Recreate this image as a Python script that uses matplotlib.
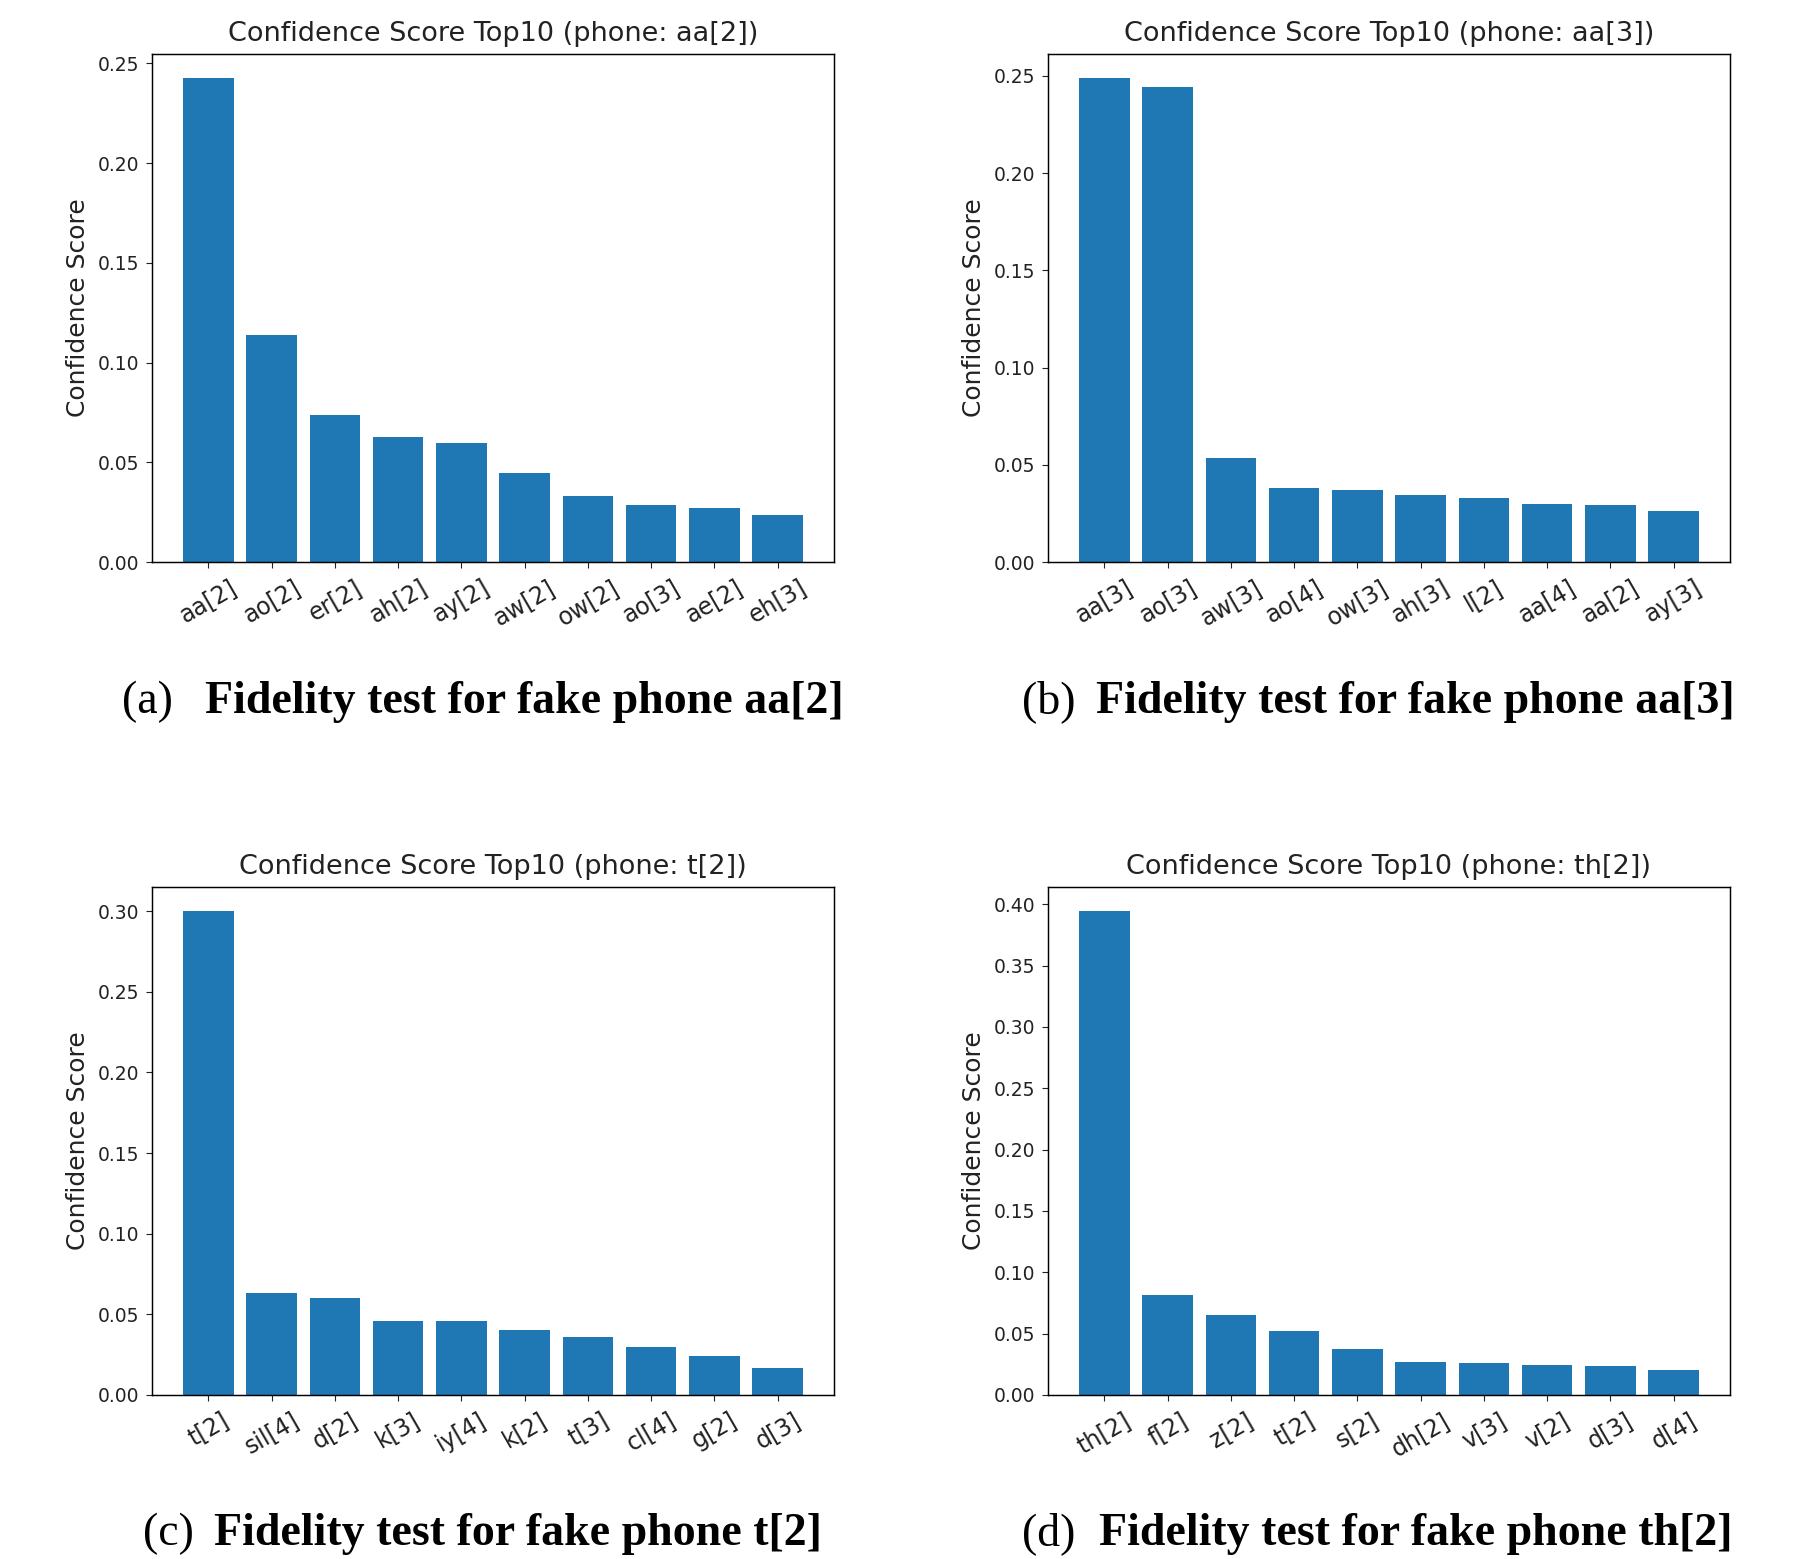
"""
fidelity test bar charts
"""

import matplotlib as mpl
import matplotlib.pyplot as plt

mpl.rcParams['font.family'] = 'DejaVu Sans'
mpl.rcParams['text.color'] = '#222222'
mpl.rcParams['axes.labelcolor'] = '#222222'
mpl.rcParams['xtick.color'] = '#222222'
mpl.rcParams['ytick.color'] = '#222222'
mpl.rcParams['xtick.major.size'] = 4.5
mpl.rcParams['ytick.major.size'] = 4.5
mpl.rcParams['xtick.major.pad'] = 5
mpl.rcParams['ytick.major.pad'] = 4.5
mpl.rcParams['axes.linewidth'] = 1.05

labels_a = ['aa[2]', 'ao[2]', 'er[2]', 'ah[2]', 'ay[2]', 'aw[2]', 'ow[2]', 'ao[3]', 'ae[2]', 'eh[3]']
scores_a = [0.2426, 0.1138, 0.0738, 0.0629, 0.0595, 0.0446, 0.0332, 0.0286, 0.0269, 0.0235]

labels_b = ['aa[3]', 'ao[3]', 'aw[3]', 'ao[4]', 'ow[3]', 'ah[3]', 'l[2]', 'aa[4]', 'aa[2]', 'ay[3]']
scores_b = [0.2488, 0.2441, 0.0534, 0.0381, 0.0370, 0.0346, 0.0329, 0.0299, 0.0293, 0.0264]

labels_c = ['t[2]', 'sil[4]', 'd[2]', 'k[3]', 'iy[4]', 'k[2]', 't[3]', 'cl[4]', 'g[2]', 'd[3]']
scores_c = [0.3000, 0.0631, 0.0603, 0.0461, 0.0461, 0.0404, 0.0362, 0.0298, 0.0241, 0.0170]

labels_d = ['th[2]', 'f[2]', 'z[2]', 't[2]', 's[2]', 'dh[2]', 'v[3]', 'v[2]', 'd[3]', 'd[4]']
scores_d = [0.3944, 0.0819, 0.0651, 0.0521, 0.0372, 0.0270, 0.0260, 0.0242, 0.0233, 0.0205]

phones = ['aa[2]', 'aa[3]', 't[2]', 'th[2]']
tags = ['(a)', '(b)', '(c)', '(d)']

W, H = 1794, 1559
fig = plt.figure(figsize=(W / 100, H / 100), dpi=100)

# axes boxes in pixels: left, top, right, bottom
boxes = [(152, 54, 834, 562), (1048, 54, 1730, 562),
         (152, 887, 834, 1395), (1048, 887, 1730, 1395)]
# caption pieces: tag x, bold text x, y (pixels)
tag_x = [122, 1022, 143, 1022]
cap_x = [205, 1096, 214, 1099]
cap_y = [702, 702, 1534, 1534]

data = [(labels_a, scores_a), (labels_b, scores_b),
        (labels_c, scores_c), (labels_d, scores_d)]

for i, (labels, scores) in enumerate(data):
    l, t, r, b = boxes[i]
    ax = fig.add_axes([l / W, 1 - b / H, (r - l) / W, (b - t) / H])
    ax.bar(range(len(scores)), scores, color='#1f77b4')
    ax.set_xticks(range(len(labels)))
    ax.set_xticklabels(labels, rotation=30, fontsize=17)
    ax.tick_params(axis='y', labelsize=13.5)
    ax.yaxis.set_major_formatter(mpl.ticker.FormatStrFormatter('%.2f'))
    ax.set_ylabel('Confidence Score', fontsize=18, labelpad=6)
    ax.set_title('Confidence Score Top10 (phone: %s)' % phones[i],
                 fontsize=19.5, pad=9.5)

    fig.text(tag_x[i] / W, 1 - cap_y[i] / H, tags[i], color='black',
             family='Liberation Serif', fontsize=33, ha='left', va='center')
    fig.text(cap_x[i] / W, 1 - cap_y[i] / H,
             'Fidelity test for fake phone %s' % phones[i], color='black',
             family='Liberation Serif', fontsize=33, weight='bold',
             ha='left', va='center')

fig.savefig('out.png', dpi=100)
